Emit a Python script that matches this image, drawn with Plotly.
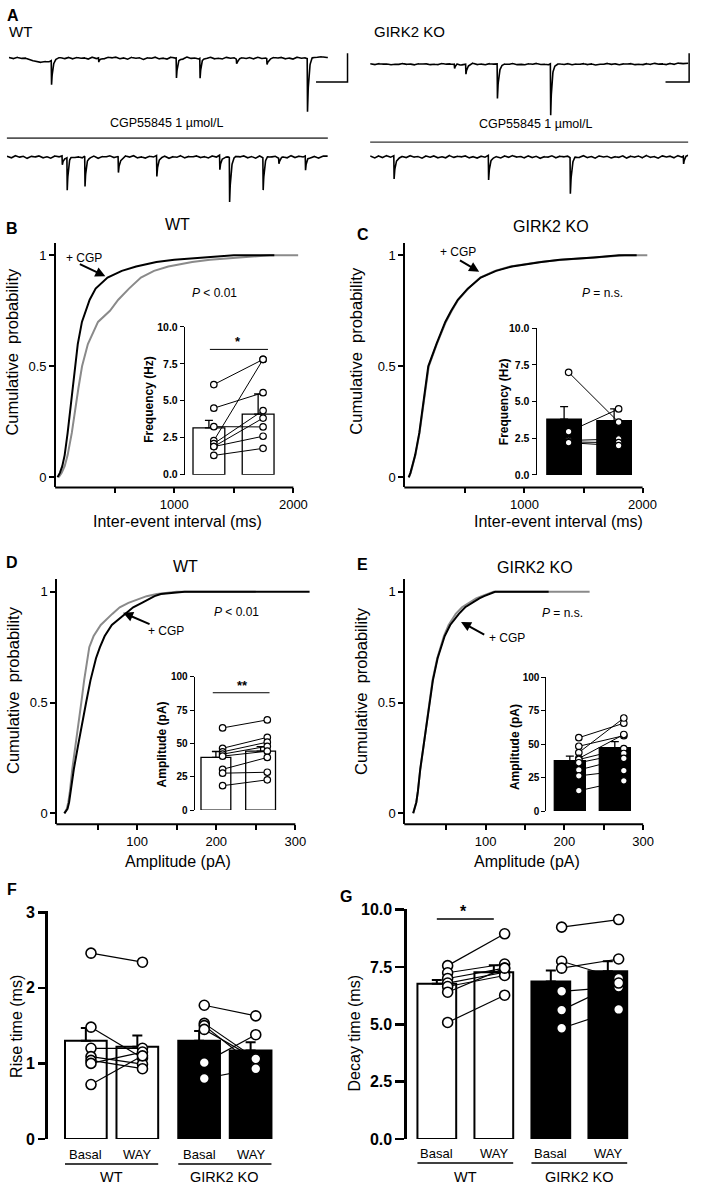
import numpy as np
import plotly.graph_objects as go

W, H = 709, 1192
FONT = "Arial, Liberation Sans, Helvetica, sans-serif"
GRAY = "#8a8a8a"

# ---------------- Panel A: sample traces (pA vs ms) ----------------
WANDER_STEP_MS = 25
wt_ctrl_wander = [0.6, -0.5, 0.9, -0.3, 0.4, -0.9, -1.6, -2.4, -2.9, -2.1,
                  -2.7, -1.3, -0.2, 0.7, -0.5, 0.9, -0.6, 0.8, -0.2, 0.6,
                  -0.8, 1.0, -0.4, 0.5, -0.7, 0.9, 0.1, 1.1, -0.5, 0.6,
                  -0.9, 0.8, -0.2, 0.7, -1.0, 0.5, -0.3, 1.0, -0.6, 0.4,
                  -0.8, 0.9, -0.1, 0.6, -0.9, 1.1, -0.3, 0.5, -0.7, 0.8,
                  -0.4, 1.0, -0.6, 0.3, -0.8, 0.9, -0.2, 0.7, -1.0, 0.6,
                  -0.4, 0.8, -0.7, 1.0, -0.3, 0.5, -0.9, 0.7, -0.1, 0.9,
                  -0.6, 0.4, -0.8, 1.0, -0.2, 0.6, -0.5, 1.2, 0.4, 1.3, 0.6]
wt_ctrl_event_ms = [269, 569, 1062, 1212, 1444, 1637, 1894]
wt_ctrl_event_pa = [17, 3, 14, 14, 3, 4, 37]

wt_cgp_wander = [0.5, -0.9, 1.1, -0.4, 0.8, -1.2, 0.6, -0.3, 1.0, -0.8,
                 0.4, -1.1, 0.9, -0.2, 0.7, -1.0, 1.2, -0.5, 0.3, -0.9,
                 1.0, -0.6, 0.8, -1.2, 0.5, -0.2, 1.1, -0.7, 0.6, -1.0,
                 0.9, -0.4, 1.2, -0.8, 0.3, -1.1, 0.7, -0.3, 1.0, -0.6,
                 0.8, -1.2, 0.4, -0.5, 1.1, -0.9, 0.6, -0.2, 1.0, -0.7,
                 0.5, -1.0, 0.9, -0.4, 1.2, -0.6, 0.3, -1.1, 0.8, -0.3,
                 1.0, -0.8, 0.6, -1.2, 0.9, -0.5, 1.1, -0.2, 0.7, -0.9,
                 0.4, -1.0, 1.2, -0.6, 0.8, -0.3, 1.0, -0.7, 0.5, -1.1, 0.6]
wt_cgp_event_ms = [350, 381, 494, 706, 950, 1350, 1412, 1625, 1725, 1894]
wt_cgp_event_pa = [6, 22.8, 21.4, 11, 14.5, 10, 31, 22.8, 4, 10]

ko_ctrl_wander = [0.3, -0.5, 0.6, -0.2, 0.5, -0.6, 0.2, -0.4, 0.7, -0.3,
                  0.4, -0.7, 0.5, -0.1, 0.6, -0.5, 0.3, -0.6, 0.7, -0.2,
                  0.5, -0.4, 0.6, -0.7, 0.2, -0.3, 0.8, -0.5, 0.4, -0.6,
                  0.6, -0.2, 0.5, -0.7, 0.3, -0.4, 0.7, -0.5, 0.2, -0.6,
                  0.5, -0.3, 0.8, -0.4, 0.3, -0.7, 0.6, -0.2, 0.4, -0.5,
                  0.7, -0.6, 0.3, -0.3, 0.6, -0.5, 0.5, -0.7, 0.2, -0.4,
                  0.8, -0.3, 0.5, -0.6, 0.4, -0.2, 0.7, -0.5, 0.3, -0.6,
                  0.6, -0.4, 0.9, -0.2, 0.5, -0.5, 0.8, -0.3, 1.0, 0.2, 0.7]
ko_ctrl_event_ms = [534, 606, 806, 1144]
ko_ctrl_event_pa = [3, 7, 24, 36]

ko_cgp_wander = [0.7, -1.0, 0.9, -0.6, 1.2, -0.4, 0.8, -1.1, 0.5, -0.7,
                 1.1, -0.3, 0.6, -1.2, 0.9, -0.5, 1.0, -0.8, 0.4, -1.0,
                 1.2, -0.6, 0.7, -0.2, 1.0, -0.9, 0.5, -1.1, 0.8, -0.4,
                 1.1, -0.7, 0.3, -1.0, 0.9, -0.5, 1.2, -0.3, 0.6, -0.9,
                 1.0, -0.6, 0.8, -1.2, 0.4, -0.4, 1.1, -0.8, 0.7, -0.2,
                 0.9, -1.0, 0.5, -0.6, 1.2, -0.7, 0.6, -1.1, 1.0, -0.3,
                 0.8, -0.9, 0.4, -0.5, 1.1, -1.0, 0.7, -0.4, 0.9, -0.8,
                 1.3, -0.5, 0.6, -1.1, 1.0, -0.2, 0.8, -0.9, 1.2, -0.4, 1.3]
ko_cgp_event_ms = [150, 750, 1269, 1988]
ko_cgp_event_pa = [16, 17, 25, 5.5]

SCALE_BAR_PA = 20
SCALE_BAR_MS_WT = 200
SCALE_BAR_MS_KO = 150
EVENT_TAU_MS = 8.0

# ---------------- Panels B-E: cumulative distributions ----------------
P_LEVELS = [0, 0.02, 0.05, 0.1, 0.2, 0.3, 0.4, 0.5, 0.6, 0.7, 0.75, 0.8,
            0.85, 0.9, 0.93, 0.95, 0.97, 0.98, 0.99, 1.0]
b_ctrl_ms = [30, 55, 80, 105, 140, 165, 195, 226, 275, 360, 460, 530, 620, 720, 830, 950, 1150, 1300, 1550, 1800]
b_ctrl_end = 2040
b_cgp_ms = [20, 40, 60, 80, 105, 125, 145, 165, 190, 225, 257, 290, 340, 440, 560, 680, 850, 1000, 1250, 1500]
b_cgp_end = 1840
c_ctrl_ms = [22, 37, 52, 77, 112, 137, 160, 190, 258, 335, 385, 440, 525, 625, 750, 880, 1130, 1320, 1600, 1850]
c_ctrl_end = 2040
c_cgp_ms = [20, 35, 50, 75, 110, 135, 158, 186, 255, 330, 380, 436, 520, 630, 760, 894, 1144, 1300, 1586, 1800]
c_cgp_end = 1950
d_ctrl_pa = [8, 11, 13, 15, 18, 22, 25.5, 29.4, 33, 37, 39.5, 45, 54, 68.5, 78, 89, 103, 112, 125, 150]
d_ctrl_end = 250
d_cgp_pa = [8, 12, 14, 16, 20, 25, 30, 35.5, 41, 48, 53, 59, 68, 84, 95, 106, 116, 122, 130, 160]
d_cgp_end = 318
e_ctrl_pa = [8, 10, 12, 14, 17, 21, 25, 28.3, 32.5, 38.5, 42.5, 47, 53, 62, 70, 78.4, 88, 95, 102, 110]
e_ctrl_end = 232
e_cgp_pa = [8, 10, 12, 14, 17, 21, 25, 28.6, 33, 39, 43.2, 48, 55, 66, 74, 82.5, 92, 98, 105, 112]
e_cgp_end = 180

# ---------------- Insets ----------------
b_bar = [3.16, 4.10]; b_sem = [0.51, 1.36]
b_basal = [6.1, 4.5, 3.25, 2.3, 2.1, 1.9, 1.9, 1.3]
b_cgp = [7.8, 5.55, 3.23, 7.8, 4.34, 3.83, 2.6, 1.78]
c_bar = [3.80, 3.70]; c_sem = [0.86, 0.80]
c_basal = [7.0, 2.95, 2.35, 2.25, 2.2]
c_cgp = [3.6, 4.5, 2.45, 2.2, 2.0]
d_bar = [39.5, 44.2]; d_sem = [4.5, 3.5]
d_basal = [61.7, 46.4, 43.7, 42.0, 40.5, 30.6, 27.7, 18.3]
d_cgp = [67.7, 54.6, 51.0, 47.9, 44.2, 39.5, 28.4, 22.7]
e_bar = [37.6, 47.4]; e_sem = [3.4, 4.4]
e_basal = [54.8, 48.4, 43.7, 39.3, 38.5, 36.1, 30.7, 26.3, 15.2]
e_cgp = [65.6, 56.3, 69.5, 57.2, 46.7, 43.0, 39.3, 30.2, 22.6]

# ---------------- Panels F, G ----------------
cond_labels = ["Basal", "WAY", "Basal", "WAY"]
group_labels = ["WT", "GIRK2 KO"]
rise_bar = [1.30, 1.22, 1.30, 1.17]; rise_sem = [0.17, 0.15, 0.13, 0.11]
rise_wt_basal = [2.46, 1.48, 1.20, 1.09, 1.04, 1.00, 0.72]
rise_wt_way = [2.34, 1.07, 1.20, 0.99, 0.93, 1.15, 1.10]
rise_ko_basal = [1.77, 1.53, 1.50, 1.45, 1.01, 0.80]
rise_ko_way = [1.63, 1.06, 0.96, 1.06, 1.38, 0.93]
decay_bar = [6.77, 7.27, 6.87, 7.32]; decay_sem = [0.16, 0.31, 0.48, 0.43]
decay_wt_basal = [7.56, 7.25, 7.0, 6.8, 6.65, 6.4, 5.08]
decay_wt_way = [8.95, 7.63, 7.45, 7.27, 7.13, 7.45, 6.27]
decay_ko_basal = [9.24, 7.75, 7.45, 6.44, 5.62, 4.83]
decay_ko_way = [9.57, 7.0, 7.85, 6.63, 6.8, 5.65]

# =================================================================
fig = go.Figure()
layout = dict(width=W, height=H, margin=dict(l=0, r=0, t=0, b=0),
              paper_bgcolor="white", plot_bgcolor="white", showlegend=False,
              annotations=[], shapes=[])
_n = [0]


def px(x):
    return x / W


def py(y):
    return 1 - y / H


def lin(p, pa, va, pb, vb):
    return va + (p - pa) * (vb - va) / (pb - pa)


def pix(v, pa, va, pb, vb):
    return pa + (v - va) * (pb - pa) / (vb - va)


def add_axes(xdom, ydom, xr, yr, xkw=None, ykw=None):
    _n[0] += 1
    s = "" if _n[0] == 1 else str(_n[0])
    xa = dict(domain=[px(xdom[0]), px(xdom[1])], range=list(xr), anchor="y" + s,
              showgrid=False, zeroline=False, visible=False)
    ya = dict(domain=[py(ydom[1]), py(ydom[0])], range=list(yr), anchor="x" + s,
              showgrid=False, zeroline=False, visible=False)
    if xkw:
        xa.update(xkw)
    if ykw:
        ya.update(ykw)
    layout["xaxis" + s] = xa
    layout["yaxis" + s] = ya
    return "x" + s, "y" + s


def text(x, y, s, size, bold=False, angle=0, xanchor="center"):
    if bold:
        s = "<b>" + s + "</b>"
    layout["annotations"].append(dict(
        x=px(x), y=py(y), xref="paper", yref="paper", text=s, showarrow=False,
        font=dict(family=FONT, size=size, color="black"), xanchor=xanchor,
        yanchor="middle", textangle=angle))


def arrow(xh, yh, xt, yt):
    layout["annotations"].append(dict(
        x=px(xh), y=py(yh), xref="paper", yref="paper", ax=xt - xh, ay=yt - yh,
        text="", showarrow=True, arrowhead=2, arrowsize=1, arrowwidth=2,
        arrowcolor="black"))


def hline_paper(x0, x1, y, color="black", width=1.5):
    layout["shapes"].append(dict(type="line", xref="paper", yref="paper",
                                 x0=px(x0), x1=px(x1), y0=py(y), y1=py(y),
                                 line=dict(color=color, width=width)))


# ---------------- Panel A ----------------
def render_trace(wander, ev_t, ev_a, dur):
    t = np.arange(0, dur + 0.5, 1.0)
    tw = np.arange(len(wander)) * WANDER_STEP_MS
    y = np.interp(t, tw, wander)
    for t0, a in zip(ev_t, ev_a):
        dt = t - t0
        k = np.where(dt < 0, 0.0, np.where(dt < 2, dt / 2.0, np.exp(-(dt - 2) / EVENT_TAU_MS)))
        y = y - a * k
    return t, y


PX_PER_MS = 0.16
PX_PER_PA = 1.45


def trace_axes(x0px, x1px, y0px, y1px, base_px):
    xr = [0, (x1px - x0px) / PX_PER_MS]
    yr = [-(y1px - base_px) / PX_PER_PA, (base_px - y0px) / PX_PER_PA]
    return add_axes((x0px, x1px), (y0px, y1px), xr, yr)


traces_A = [
    (wt_ctrl_wander, wt_ctrl_event_ms, wt_ctrl_event_pa, (9, 356, 40, 112, 52), (333 - 9) / PX_PER_MS, SCALE_BAR_MS_WT, 353, 76),
    (wt_cgp_wander, wt_cgp_event_ms, wt_cgp_event_pa, (7, 333, 136, 200, 152), (333 - 7) / PX_PER_MS, None, None, None),
    (ko_ctrl_wander, ko_ctrl_event_ms, ko_ctrl_event_pa, (376, 703, 40, 112, 58), (699 - 376) / PX_PER_MS, SCALE_BAR_MS_KO, 700, 76),
    (ko_cgp_wander, ko_cgp_event_ms, ko_cgp_event_pa, (376, 699, 136, 200, 152), (699 - 376) / PX_PER_MS, None, None, None),
]
for wander, et, ea, box, dur, sb_ms, sb_x, sb_y in traces_A:
    xa, ya = trace_axes(*box)
    t, y = render_trace(wander, et, ea, dur)
    fig.add_trace(go.Scatter(x=t, y=y, mode="lines", line=dict(color="black", width=1.6),
                             xaxis=xa, yaxis=ya, hoverinfo="skip"))
    if sb_ms:
        ct = (sb_x - box[0]) / PX_PER_MS
        cv = -(sb_y - box[4]) / PX_PER_PA
        fig.add_trace(go.Scatter(x=[ct - sb_ms, ct, ct], y=[cv, cv, cv + SCALE_BAR_PA],
                                 mode="lines", line=dict(color="black", width=1.5),
                                 xaxis=xa, yaxis=ya, hoverinfo="skip"))

text(13, 9, "A", 16, bold=True)
text(21, 25, "WT", 15)
text(416, 25, "GIRK2 KO", 15)
text(170, 118, "CGP55845 1 µmol/L", 12.5)
text(544, 119, "CGP55845 1 µmol/L", 12.5)
hline_paper(7, 333, 133, color="#555555", width=1.8)
hline_paper(376, 699, 137, color="#333333", width=1.1)

# ---------------- Panels B-E ----------------
TICKFONT = dict(family=FONT, size=13, color="black")


def cum_panel(xdom, ydom, xcal, ycal, xtickvals, xticktext, xline_to, curves):
    xr = [lin(xdom[0], *xcal), lin(xdom[1], *xcal)]
    yr = [lin(ydom[1], *ycal), lin(ydom[0], *ycal)]
    xkw = dict(visible=True, showline=False, ticks="outside", ticklen=5, tickwidth=2,
               tickcolor="black", tickvals=xtickvals, ticktext=xticktext, tickfont=TICKFONT)
    ykw = dict(visible=True, showline=True, linecolor="black", linewidth=2, ticks="outside",
               ticklen=5, tickwidth=2, tickcolor="black", tickvals=[0, 0.5, 1],
               ticktext=["0", "0.5", "1"], tickfont=TICKFONT)
    xa, ya = add_axes(xdom, ydom, xr, yr, xkw, ykw)
    hline_paper(xdom[0] - 1, pix(xline_to, *xcal), ydom[1], width=2)
    for xs, xend, color in curves:
        fig.add_trace(go.Scatter(x=list(xs) + [xend], y=list(P_LEVELS) + [1.0], mode="lines",
                                 line=dict(color=color, width=2), xaxis=xa, yaxis=ya,
                                 hoverinfo="skip"))
    return xa, ya


def bar_inset(xdom, ydom, xcal, ycal, ytickvals, yticktext, fsize, bars, sems, color,
              width, basal, treat, off):
    xr = [lin(xdom[0], *xcal), lin(xdom[1], *xcal)]
    yr = [lin(ydom[1], *ycal), lin(ydom[0], *ycal)]
    ykw = dict(visible=True, showline=True, linecolor="black", linewidth=1, ticks="outside",
               ticklen=4, tickwidth=1, tickcolor="black", tickvals=ytickvals,
               ticktext=yticktext,
               tickfont=dict(family=FONT, size=fsize, color="black", weight="bold"))
    xa, ya = add_axes(xdom, ydom, xr, yr, None, ykw)
    fig.add_trace(go.Bar(x=[0, 1], y=bars, width=width, xaxis=xa, yaxis=ya,
                         marker=dict(color=color, line=dict(color="black", width=1.3)),
                         error_y=dict(type="data", symmetric=False, array=sems,
                                      arrayminus=[0, 0], color="black", thickness=1.3, width=4),
                         hoverinfo="skip"))
    lx, ly = [], []
    for a, b in zip(basal, treat):
        lx += [0 + off, 1 + off, None]
        ly += [a, b, None]
    fig.add_trace(go.Scatter(x=lx, y=ly, mode="lines", line=dict(color="black", width=1),
                             xaxis=xa, yaxis=ya, hoverinfo="skip"))
    fig.add_trace(go.Scatter(x=[0 + off] * len(basal) + [1 + off] * len(treat),
                             y=list(basal) + list(treat), mode="markers", cliponaxis=False,
                             marker=dict(size=6.5, color="white", line=dict(color="black", width=1.2)),
                             xaxis=xa, yaxis=ya, hoverinfo="skip"))
    return xa, ya


# B
cum_panel((57, 306), (239, 487), (177, 1000, 298, 2000), (476.7, 0, 251.7, 1),
          [500, 1000, 1500, 2000], ["", "1000", "", "2000"], 2000,
          [(b_ctrl_ms, b_ctrl_end, GRAY), (b_cgp_ms, b_cgp_end, "black")])
xa, ya = bar_inset((187.7, 285), (324.3, 474), (212.2, 0, 262.2, 1), (474, 0, 324.3, 10),
                   [0, 2.5, 5, 7.5, 10], ["0.0", "2.5", "5.0", "7.5", "10.0"], 10.5,
                   b_bar, b_sem, "white", 0.646, b_basal, b_cgp, 0.1)
layout["shapes"].append(dict(type="line", xref=xa, yref=ya, x0=0.02, x1=1.2, y0=8.48, y1=8.48,
                             line=dict(color="black", width=1)))
text(12, 225, "B", 16, bold=True)
text(180, 220, "WT", 16)
text(12.5, 349, "Cumulative  probability", 16.5, angle=-90)
text(180, 521, "Inter-event interval (ms)", 16)
text(85, 254, "+ CGP", 12)
arrow(107, 273, 80, 260)
text(218, 290, "<i>P</i> < 0.01", 12)
text(150.5, 398, "Frequency (Hz)", 12, bold=True, angle=-90)
text(241.7, 339, "*", 13, bold=True)

# C
cum_panel((411.7, 660), (239, 487), (532.7, 1000, 652.7, 2000), (476.7, 0, 251.7, 1),
          [500, 1000, 1500, 2000], ["", "1000", "", "2000"], 2000,
          [(c_ctrl_ms, c_ctrl_end, GRAY), (c_cgp_ms, c_cgp_end, "black")])
bar_inset((545, 650), (325.7, 474.3), (573, 0, 623.8, 1), (474.3, 0, 325.7, 10),
          [0, 2.5, 5, 7.5, 10], ["0.0", "2.5", "5.0", "7.5", "10.0"], 10.5,
          c_bar, c_sem, "black", 0.69, c_basal, c_cgp, 0.09)
text(369, 231, "C", 16, bold=True)
text(560, 222, "GIRK2 KO", 16)
text(362, 348, "Cumulative  probability", 16.5, angle=-90)
text(567, 521, "Inter-event interval (ms)", 16)
text(465, 248, "+ CGP", 12)
arrow(486.7, 268.3, 466, 256)
text(611.7, 290, "<i>P</i> = n.s.", 12)
text(511.5, 400, "Frequency (Hz)", 12, bold=True, angle=-90)

# D
cum_panel((58.3, 316), (580, 828.3), (139.3, 100, 300, 300), (817.3, 0, 592.7, 1),
          [50, 100, 150, 200, 250, 300], ["", "100", "", "200", "", "300"], 300,
          [(d_ctrl_pa, d_ctrl_end, GRAY), (d_cgp_pa, d_cgp_end, "black")])
xa, ya = bar_inset((197.7, 290), (679, 814), (219.3, 0, 264.7, 1), (814, 0, 679, 100),
                   [0, 25, 50, 75, 100], ["0", "25", "50", "75", "100"], 10,
                   d_bar, d_sem, "white", 0.667, d_basal, d_cgp, 0.15)
layout["shapes"].append(dict(type="line", xref=xa, yref=ya, x0=-0.07, x1=1.2, y0=88.1, y1=88.1,
                             line=dict(color="black", width=1)))
text(12, 563, "D", 16, bold=True)
text(188, 567, "WT", 16)
text(12.5, 692, "Cumulative  probability", 16.5, angle=-90)
text(181, 866, "Amplitude (pA)", 16)
text(169, 632, "+ CGP", 12)
arrow(125, 614, 153, 626)
text(240, 613, "<i>P</i> < 0.01", 12)
text(165, 747, "Amplitude (pA)", 12, bold=True, angle=-90)
text(246.7, 688, "**", 13, bold=True)

# E
cum_panel((411.7, 653.3), (580, 828.3), (493.3, 100, 653.3, 300), (817.3, 0, 592.7, 1),
          [50, 100, 150, 200, 250, 300], ["", "100", "", "200", "", "300"], 300,
          [(e_ctrl_pa, e_ctrl_end, GRAY), (e_cgp_pa, e_cgp_end, "black")])
bar_inset((555, 650), (679.3, 815), (578.8, 0, 624.5, 1), (815, 0, 679.3, 100),
          [0, 25, 50, 75, 100], ["0", "25", "50", "75", "100"], 10,
          e_bar, e_sem, "black", 0.69, e_basal, e_cgp, 0.2)
text(368, 565, "E", 16, bold=True)
text(543, 568, "GIRK2 KO", 16)
text(366, 693, "Cumulative  probability", 16.5, angle=-90)
text(535, 866, "Amplitude (pA)", 16)
text(515, 640, "+ CGP", 12)
arrow(468.3, 623.3, 493, 636.7)
text(571.7, 614, "<i>P</i> = n.s.", 12)
text(523.3, 750, "Amplitude (pA)", 12, bold=True, angle=-90)


# ---------------- Panels F, G ----------------
def group_panel(xdom, ydom, xcal, ycal, ytickvals, yticktext, ticklen, pos, bars, sems,
                width, pairs, off, label_y, gline_y, glabel_y):
    xr = [lin(xdom[0], *xcal), lin(xdom[1], *xcal)]
    yr = [lin(ydom[1], *ycal), lin(ydom[0], *ycal)]
    ykw = dict(visible=True, showline=True, linecolor="black", linewidth=2.5, ticks="outside",
               ticklen=ticklen, tickwidth=2.5, tickcolor="black", tickvals=ytickvals,
               ticktext=yticktext,
               tickfont=dict(family=FONT, size=16, color="black", weight="bold"))
    xa, ya = add_axes(xdom, ydom, xr, yr, None, ykw)
    fig.add_trace(go.Bar(x=pos, y=bars, width=width, xaxis=xa, yaxis=ya,
                         marker=dict(color=["white", "white", "black", "black"],
                                     line=dict(color="black", width=2)),
                         error_y=dict(type="data", symmetric=False, array=sems,
                                      arrayminus=[0] * 4, color="black", thickness=2, width=5),
                         hoverinfo="skip"))
    for (i0, i1, v0, v1) in pairs:
        lx, ly = [], []
        for a, b in zip(v0, v1):
            lx += [pos[i0] + off, pos[i1] + off, None]
            ly += [a, b, None]
        fig.add_trace(go.Scatter(x=lx, y=ly, mode="lines", line=dict(color="black", width=1.2),
                                 xaxis=xa, yaxis=ya, hoverinfo="skip"))
    for (i0, i1, v0, v1) in pairs:
        fig.add_trace(go.Scatter(x=[pos[i0] + off] * len(v0) + [pos[i1] + off] * len(v1),
                                 y=list(v0) + list(v1), mode="markers", cliponaxis=False,
                                 marker=dict(size=10, color="white", line=dict(color="black", width=1.6)),
                                 xaxis=xa, yaxis=ya, hoverinfo="skip"))
    for p, lab in zip(pos, cond_labels):
        layout["annotations"].append(dict(x=p, y=py(label_y), xref=xa, yref="paper", text=lab,
                                          showarrow=False, yanchor="middle",
                                          font=dict(family=FONT, size=13, color="black")))
    for g, lab in enumerate(group_labels):
        a, b = pos[2 * g] - width / 2, pos[2 * g + 1] + width / 2
        layout["shapes"].append(dict(type="line", xref=xa, yref="paper", x0=a, x1=b,
                                     y0=py(gline_y), y1=py(gline_y),
                                     line=dict(color="black", width=1.5)))
        layout["annotations"].append(dict(x=(a + b) / 2, y=py(glabel_y), xref=xa, yref="paper",
                                          text=lab, showarrow=False, yanchor="middle",
                                          font=dict(family=FONT, size=14.5, color="black")))
    return xa, ya


group_panel((48.3, 290), (916.7, 1147.3), (87.2, 0, 139.5, 1), (1147.3, 0, 917.7, 3),
            [0, 1, 2, 3], ["0", "1", "2", "3"], 7, [0, 1, 2.2, 3.2], rise_bar, rise_sem, 0.81,
            [(0, 1, rise_wt_basal, rise_wt_way), (2, 3, rise_ko_basal, rise_ko_way)], 0.1,
            1163.5, 1172.7, 1185.5)
text(12, 895, "F", 16, bold=True)
text(16, 1033, "Rise time (ms)", 16, angle=-90)

xa, ya = group_panel((413.3, 650), (914, 1147.3), (443.7, 0, 501.6, 1), (1147.3, 0, 915, 10),
                     [0, 2.5, 5, 7.5, 10], ["0.0", "2.5", "5.0", "7.5", "10.0"], 9,
                     [0, 1, 2, 3], decay_bar, decay_sem, 0.68,
                     [(0, 1, decay_wt_basal, decay_wt_way), (2, 3, decay_ko_basal, decay_ko_way)],
                     0.19, 1162, 1171.7, 1185.5)
layout["shapes"].append(dict(type="line", xref=xa, yref=ya, x0=0.0, x1=1.0, y0=9.6, y1=9.6,
                             line=dict(color="black", width=1.5)))
text(351, 902, "G", 16, bold=True)
text(360, 1040, "Decay time (ms)", 16, angle=-90)
text(470.7, 917, "*", 16, bold=True)

fig.update_layout(**layout)
fig.write_html("out.html", config={"displayModeBar": False, "staticPlot": True},
               post_script="document.body.style.margin='0';document.body.style.overflow='hidden';")
